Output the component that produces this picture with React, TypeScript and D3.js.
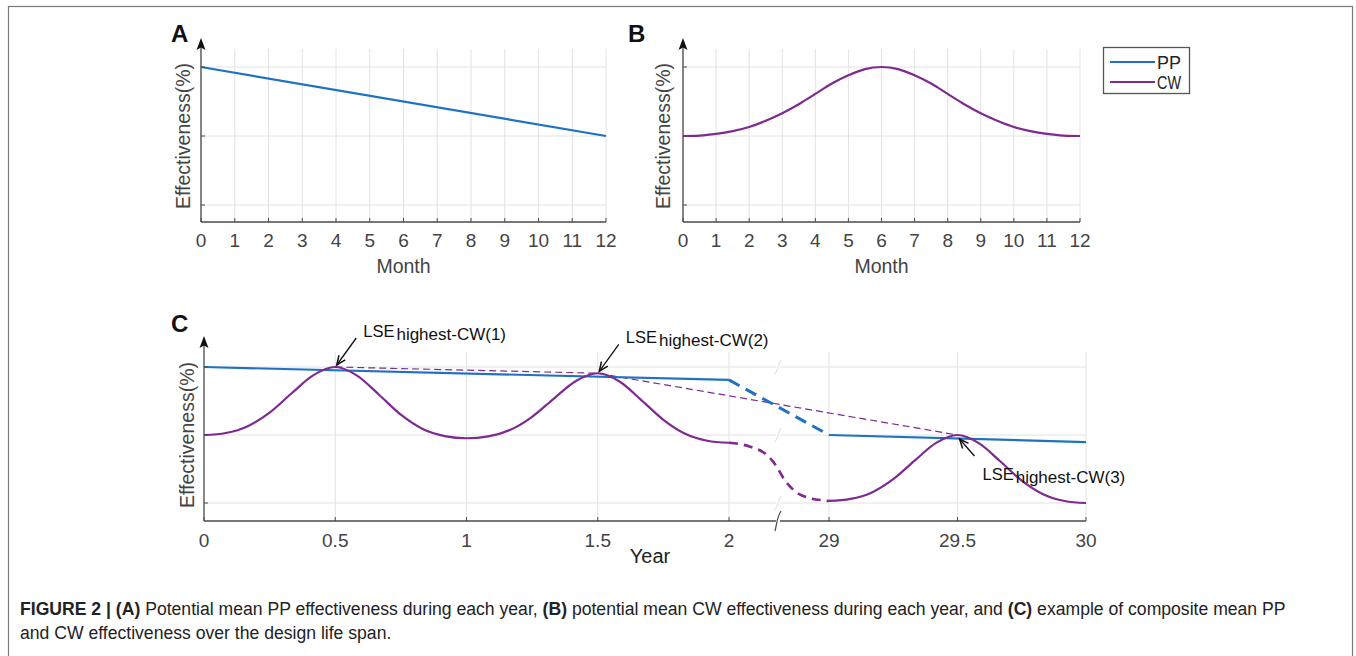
import React from 'react';
import * as d3 from 'd3';

// ---------- data ----------
const monthTicks = [0, 1, 2, 3, 4, 5, 6, 7, 8, 9, 10, 11, 12];
const gridLevels = [0, 50, 100];

const ppMonths = [0, 12];
const ppValues = [100, 50];

const cwMonths = [0, 0.5, 1, 1.5, 2, 2.5, 3, 3.5, 4, 4.5, 5, 5.5, 6, 6.5, 7, 7.5, 8, 8.5, 9, 9.5, 10, 10.5, 11, 11.5, 12];
const cwValues = [50, 50.3, 51.5, 53.5, 56.5, 61, 66.5, 73, 80.5, 88, 94, 98.5, 100, 98.5, 94, 88, 80.5, 73, 66.5, 61, 56.5, 53.5, 51.5, 50.3, 50];

const yearTicks = [0, 0.5, 1, 1.5, 2, 29, 29.5, 30];
const yearTickLabels = ['0', '0.5', '1', '1.5', '2', '29', '29.5', '30'];

const ppEarlyYears = [0, 2];
const ppEarlyValues = [100, 90.5];
const ppGapYears = [2, 29];
const ppGapValues = [90.5, 50];
const ppLateYears = [29, 30];
const ppLateValues = [50, 44.8];

const cwEarlyYears = [0, 0.083, 0.167, 0.25, 0.333, 0.417, 0.5, 0.583, 0.667, 0.75, 0.833, 0.917, 1,
  1.083, 1.167, 1.25, 1.333, 1.417, 1.5, 1.583, 1.667, 1.75, 1.833, 1.917, 2];
const cwEarlyValues = [50, 51.5, 56.5, 66.5, 80.5, 94, 100, 93.7, 79.6, 64.9, 54.4, 49.2, 47.6,
  49.0, 53.8, 63.4, 76.8, 89.7, 95.4, 89.3, 75.5, 61.2, 50.9, 45.8, 44.3];
const cwGapYears = [2, 7.7, 12.2, 14.9, 16.7, 19.4, 23.9, 28.4, 29];
const cwGapValues = [44.3, 41.4, 35.3, 26.7, 18.2, 9.6, 3.5, 1.7, 1.5];
const cwLateYears = [29, 29.083, 29.167, 29.25, 29.333, 29.417, 29.5, 29.583, 29.667, 29.75, 29.833, 29.917, 30];
const cwLateValues = [1.5, 3.0, 7.8, 17.5, 31.1, 44.2, 50, 44.0, 30.5, 16.5, 6.5, 1.5, 0];

const lseYears = [0.5, 1.5, 29.5];
const lseValues = [100, 95.4, 50];
const lseLabels = ['(1)', '(2)', '(3)'];

const seriesNames = ['PP', 'CW'];

// ---------- style ----------
const PP_COLOR = '#1f72c2';
const CW_COLOR = '#7e2a90';
const GRID = '#e2e2e2';
const AXIS = '#4a4a4a';
const TEXT = '#444';
const FONT = '"Liberation Sans", Arial, sans-serif';

type Scale = d3.ScaleLinear<number, number>;

function pathOf(xs: number[], ys: number[], x: Scale, y: Scale, curve: d3.CurveFactory = d3.curveMonotoneX) {
  const pts = xs.map((v, i) => [v, ys[i]] as [number, number]);
  return d3.line<[number, number]>().x(d => x(d[0])).y(d => y(d[1])).curve(curve)(pts) || '';
}

function YArrow({ x0, yTop }: { x0: number; yTop: number }) {
  return <path d={`M${x0},${yTop} L${x0 - 4.5},${yTop + 12} L${x0},${yTop + 9.5} L${x0 + 4.5},${yTop + 12} Z`} fill="#111" />;
}

function MonthPanel({ x, y, letter, letterX, labelX, children }: { x: Scale; y: Scale; letter: string; letterX: number; labelX: number; children?: React.ReactNode }) {
  const [x0, x1] = x.range();
  const axisY = 222;
  const gridTop = 49;
  return (
    <g>
      {monthTicks.map(t => <line key={'v' + t} x1={x(t)} x2={x(t)} y1={gridTop} y2={axisY} stroke={GRID} />)}
      {gridLevels.map(l => <line key={'h' + l} x1={x0} x2={x1} y1={y(l)} y2={y(l)} stroke={GRID} />)}
      {children}
      <line x1={x0} x2={x1} y1={axisY} y2={axisY} stroke={AXIS} strokeWidth={1.3} />
      <line x1={x0} x2={x0} y1={axisY} y2={43} stroke={AXIS} strokeWidth={1.3} />
      <YArrow x0={x0} yTop={38} />
      {monthTicks.map(t => <line key={'t' + t} x1={x(t)} x2={x(t)} y1={axisY} y2={axisY - 4} stroke={AXIS} />)}
      {gridLevels.map(l => <line key={'yt' + l} x1={x0} x2={x0 + 4} y1={y(l)} y2={y(l)} stroke={AXIS} />)}
      {monthTicks.map(t => <text key={'l' + t} x={x(t)} y={247} textAnchor="middle" fontSize={19} fill={TEXT} fontFamily={FONT}>{t}</text>)}
      <text x={(x0 + x1) / 2} y={273} textAnchor="middle" fontSize={19.5} fill={TEXT} fontFamily={FONT}>Month</text>
      <text transform={`translate(${labelX},136) rotate(-90)`} textAnchor="middle" fontSize={19.5} fill={TEXT} fontFamily={FONT}>Effectiveness(%)</text>
      <text x={letterX} y={42} fontSize={24} fontWeight="bold" fill="#111" fontFamily={FONT}>{letter}</text>
    </g>
  );
}

export default function App() {
  const xA = d3.scaleLinear().domain([0, 12]).range([201, 606]);
  const yA = d3.scaleLinear().domain([0, 100]).range([205, 67]);
  const xB = d3.scaleLinear().domain([0, 12]).range([683, 1080]);
  const xC = d3.scaleLinear().domain([0, 2, 29, 30]).range([204, 729, 829, 1086]);
  const yC = d3.scaleLinear().domain([0, 100]).range([503, 367]);

  const cX0 = 204, cX1 = 1086, cAxisY = 521, bx = 778;

  const lsePts = lseYears.map((v, i) => ({ px: xC(v), py: yC(lseValues[i]), label: lseLabels[i] }));

  return (
    <svg width={1356} height={656} style={{ position: 'absolute', left: 0, top: 0, background: '#fff' }}>
      <rect x={8.5} y={6.5} width={1344} height={700} fill="none" stroke="#7a7a7a" strokeWidth={1.2} />

      {/* Panel A */}
      <MonthPanel x={xA} y={yA} letter="A" letterX={171} labelX={190}>
        <path d={pathOf(ppMonths, ppValues, xA, yA, d3.curveLinear)} fill="none" stroke={PP_COLOR} strokeWidth={2.2} />
      </MonthPanel>

      {/* Panel B */}
      <MonthPanel x={xB} y={yA} letter="B" letterX={628} labelX={670}>
        <path d={pathOf(cwMonths, cwValues, xB, yA)} fill="none" stroke={CW_COLOR} strokeWidth={2.2} />
      </MonthPanel>

      {/* Legend */}
      <g fontFamily={FONT}>
        <rect x={1103.5} y={47.5} width={86} height={46} fill="#fff" stroke="#555" strokeWidth={1.3} />
        {seriesNames.map((n, i) => (
          <g key={n}>
            <line x1={1110} x2={1155} y1={62 + i * 20} y2={62 + i * 20} stroke={i === 0 ? PP_COLOR : CW_COLOR} strokeWidth={2} />
            <text x={1157} y={69 + i * 20} fontSize={18} fill="#222" textLength={24} lengthAdjust="spacingAndGlyphs">{n}</text>
          </g>
        ))}
      </g>

      {/* Panel C */}
      <g>
        {yearTicks.filter(t => t !== 0).map(t => <line key={'cv' + t} x1={xC(t)} x2={xC(t)} y1={352} y2={cAxisY} stroke={GRID} />)}
        {gridLevels.map(l => (
          <g key={'ch' + l}>
            <line x1={cX0} x2={bx - 2} y1={yC(l)} y2={yC(l)} stroke={GRID} />
            <line x1={bx + 2} x2={cX1} y1={yC(l)} y2={yC(l)} stroke={GRID} />
            <path d={`M${bx - 4},${yC(l) + 7} C${bx},${yC(l) + 7} ${bx},${yC(l) - 7} ${bx + 4},${yC(l) - 7}`} fill="none" stroke={GRID} strokeWidth={1.2} />
          </g>
        ))}

        {/* LSE connecting dashed line */}
        <path d={pathOf(lseYears, lseValues, xC, yC, d3.curveLinear)} fill="none" stroke={CW_COLOR} strokeWidth={1.2} strokeDasharray="7,4" />

        {/* PP */}
        <path d={pathOf(ppEarlyYears, ppEarlyValues, xC, yC, d3.curveLinear)} fill="none" stroke={PP_COLOR} strokeWidth={2.2} />
        <path d={pathOf(ppGapYears, ppGapValues, xC, yC, d3.curveLinear)} fill="none" stroke={PP_COLOR} strokeWidth={3} strokeDasharray="12,7" />
        <path d={pathOf(ppLateYears, ppLateValues, xC, yC, d3.curveLinear)} fill="none" stroke={PP_COLOR} strokeWidth={2.2} />

        {/* CW */}
        <path d={pathOf(cwEarlyYears, cwEarlyValues, xC, yC)} fill="none" stroke={CW_COLOR} strokeWidth={2.2} />
        <path d={pathOf(cwGapYears, cwGapValues, xC, yC)} fill="none" stroke={CW_COLOR} strokeWidth={2.6} strokeDasharray="9,6" />
        <path d={pathOf(cwLateYears, cwLateValues, xC, yC)} fill="none" stroke={CW_COLOR} strokeWidth={2.2} />

        {/* axes */}
        <line x1={cX0} x2={bx - 2} y1={cAxisY} y2={cAxisY} stroke={AXIS} strokeWidth={1.3} />
        <line x1={bx + 2} x2={cX1} y1={cAxisY} y2={cAxisY} stroke={AXIS} strokeWidth={1.3} />
        <path d={`M${bx - 3},${cAxisY + 10} C${bx - 1},${cAxisY + 2} ${bx - 1},${cAxisY - 4} ${bx + 3},${cAxisY - 10}`} fill="none" stroke={AXIS} strokeWidth={1.2} />
        <line x1={cX0} x2={cX0} y1={cAxisY} y2={341} stroke={AXIS} strokeWidth={1.3} />
        <YArrow x0={cX0} yTop={336} />
        {yearTicks.map(t => <line key={'ct' + t} x1={xC(t)} x2={xC(t)} y1={cAxisY} y2={cAxisY - 4} stroke={AXIS} />)}
        {gridLevels.map(l => <line key={'cyt' + l} x1={cX0} x2={cX0 + 4} y1={yC(l)} y2={yC(l)} stroke={AXIS} />)}
        {yearTicks.map((t, i) => <text key={'cl' + t} x={xC(t)} y={547} textAnchor="middle" fontSize={19} fill={TEXT} fontFamily={FONT}>{yearTickLabels[i]}</text>)}
        <text x={650} y={563} textAnchor="middle" fontSize={20} fill="#222" fontFamily={FONT}>Year</text>
        <text transform={`translate(194,435) rotate(-90)`} textAnchor="middle" fontSize={19.5} fill={TEXT} fontFamily={FONT}>Effectiveness(%)</text>
        <text x={171} y={332} fontSize={24} fontWeight="bold" fill="#111" fontFamily={FONT}>C</text>

        {/* annotations */}
        {lsePts.map((p, i) => {
          const below = i === 2;
          const hx = p.px + (below ? 2 : 1.5);
          const hy = p.py + (below ? 4 : -2);
          const tx = p.px + (below ? 17 : 21);
          const ty = p.py + (below ? 21 : -29);
          const ang = Math.atan2(hy - ty, hx - tx);
          const a1 = ang + Math.PI - 0.4, a2 = ang + Math.PI + 0.4;
          const textX = below ? p.px + 25 : p.px + 28;
          const textY = below ? p.py + 45 : p.py - 30;
          return (
            <g key={'ann' + i}>
              <line x1={tx} y1={ty} x2={hx} y2={hy} stroke="#111" strokeWidth={1.3} />
              <path d={`M${hx + 10 * Math.cos(a1)},${hy + 10 * Math.sin(a1)} L${hx},${hy} L${hx + 10 * Math.cos(a2)},${hy + 10 * Math.sin(a2)}`} fill="none" stroke="#111" strokeWidth={1.5} />
              <text x={textX} y={textY} fontSize={16.5} fill="#111" fontFamily={FONT}>
                LSE<tspan dx={2} dy={3} fontSize={17}>highest-CW{p.label}</tspan>
              </text>
            </g>
          );
        })}
      </g>

      {/* caption */}
      <g fontFamily={FONT} fontSize={17.6} fill="#222">
        <text x={20} y={615}>
          <tspan fontWeight="bold">FIGURE 2 | (A)</tspan> Potential mean PP effectiveness during each year, <tspan fontWeight="bold">(B)</tspan> potential mean CW effectiveness during each year, and <tspan fontWeight="bold">(C)</tspan> example of composite mean PP
        </text>
        <text x={20} y={639}>and CW effectiveness over the design life span.</text>
      </g>
    </svg>
  );
}
